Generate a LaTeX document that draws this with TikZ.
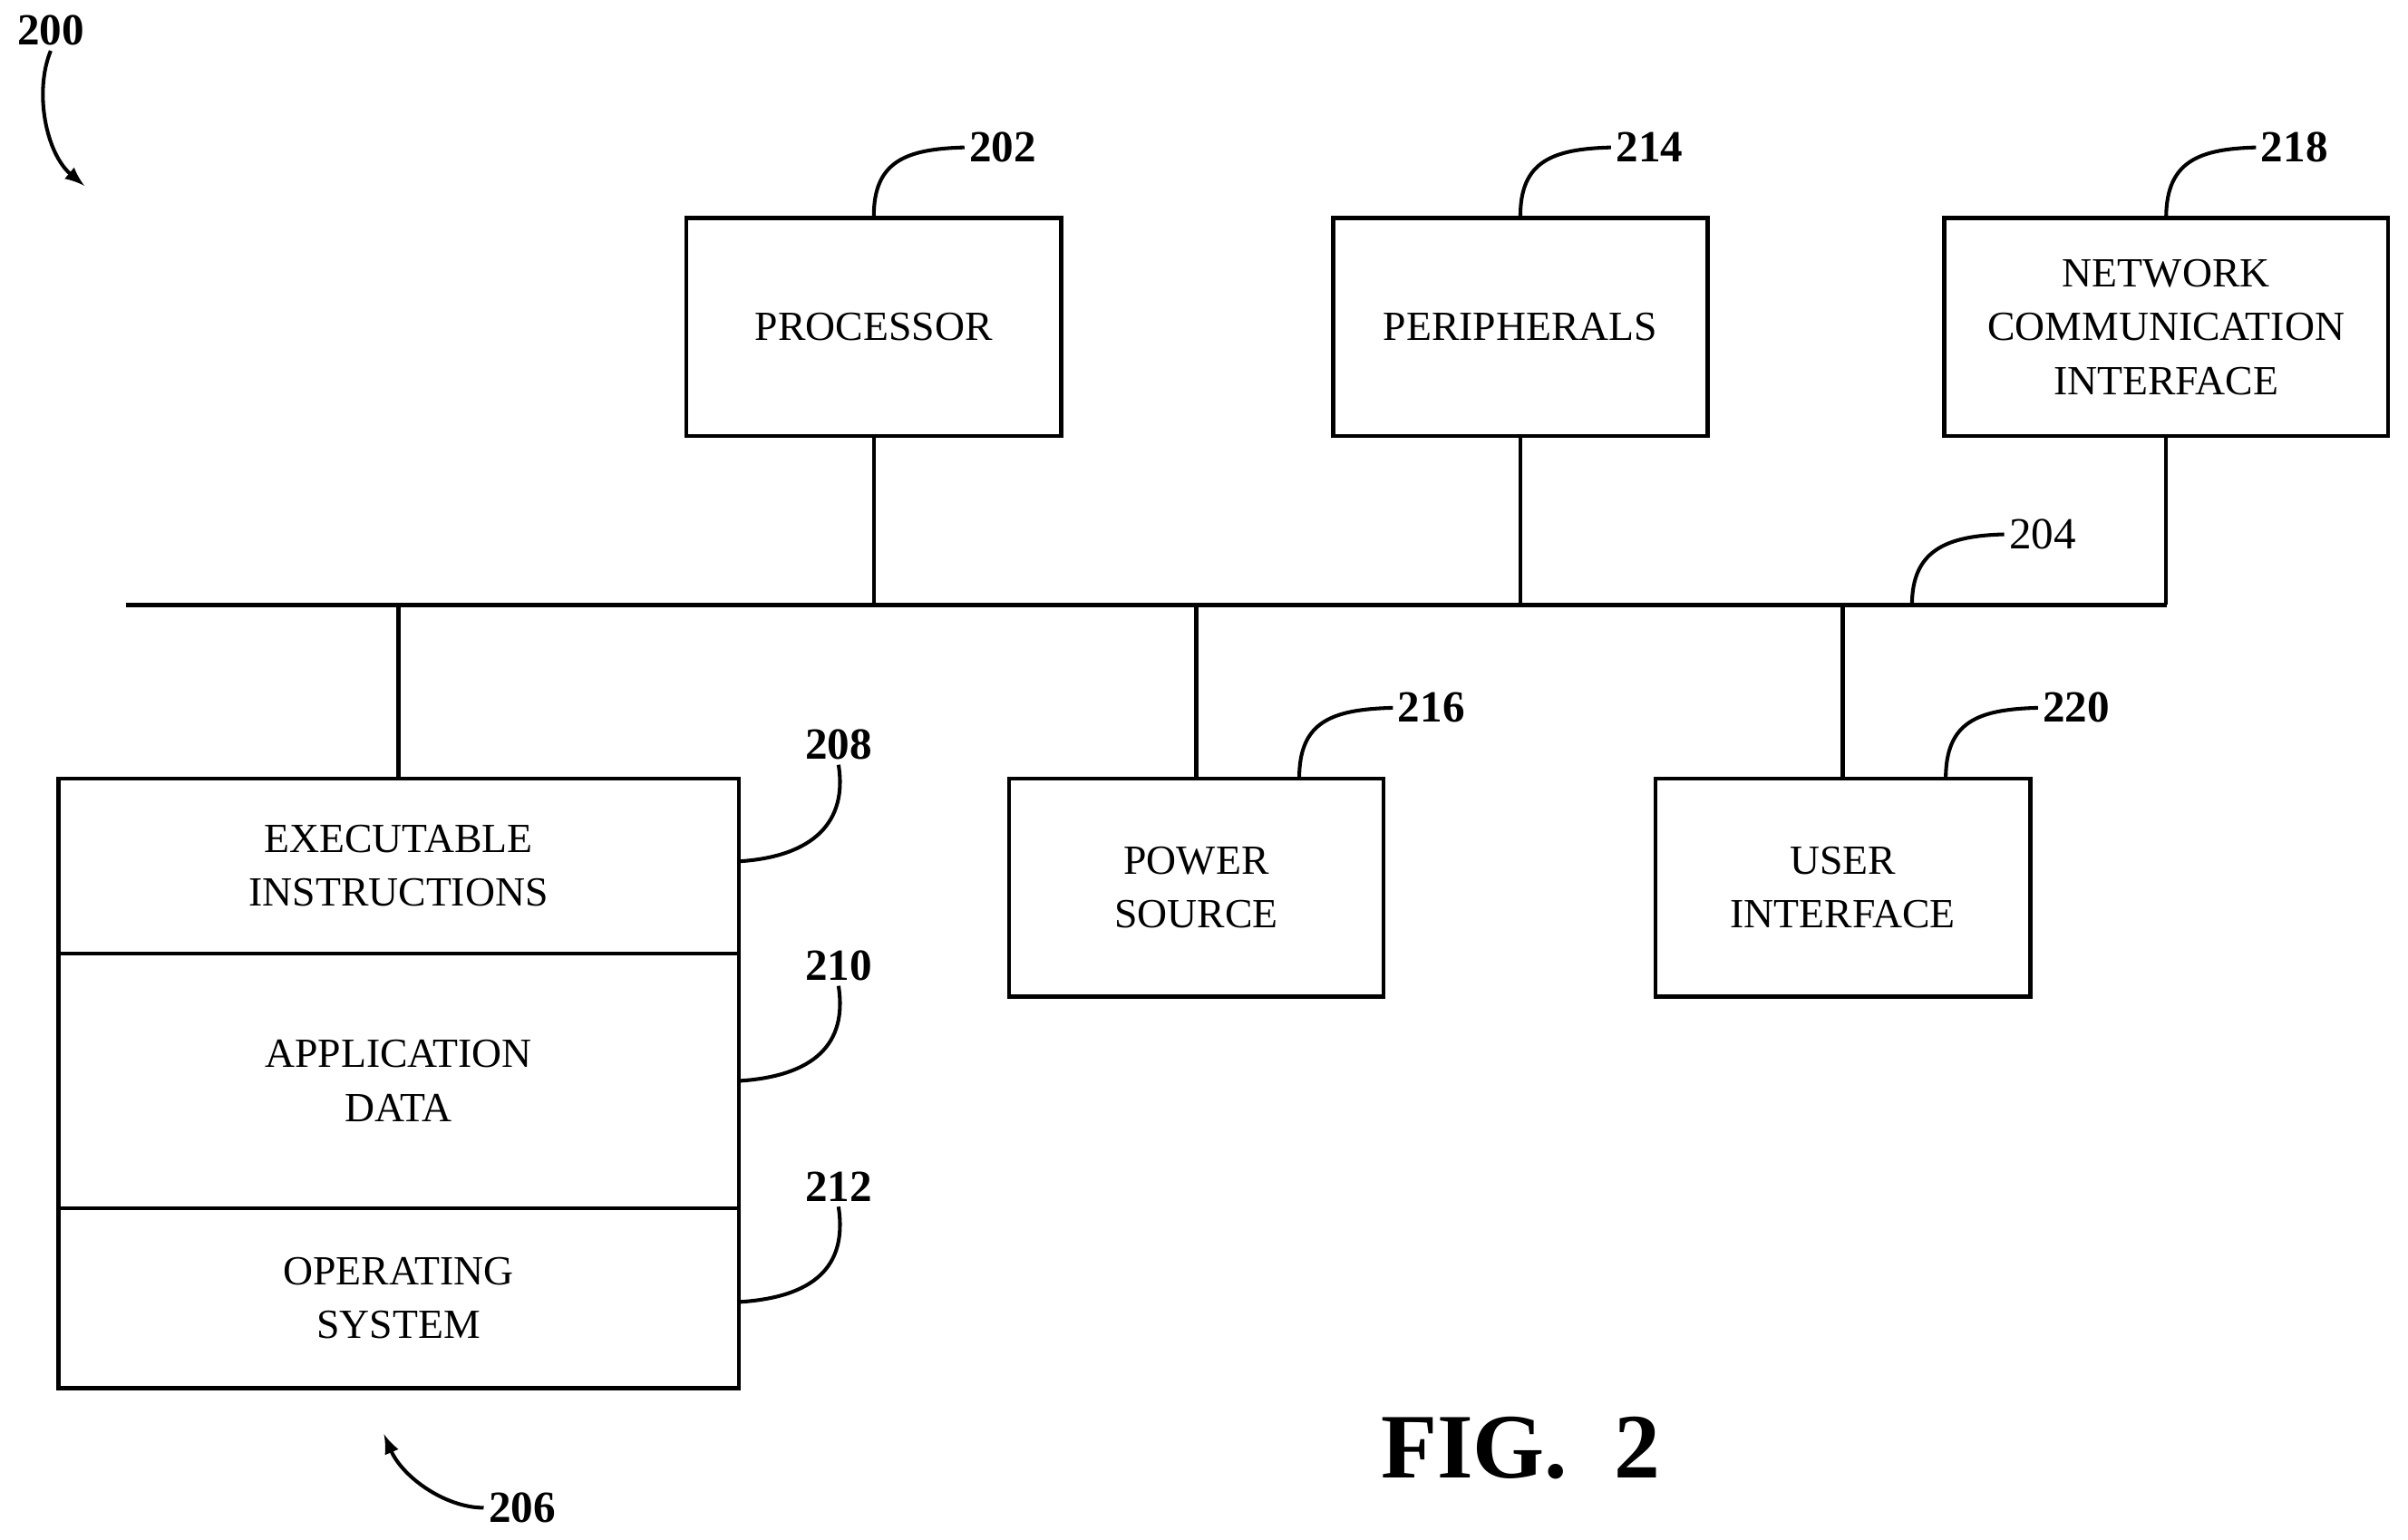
\documentclass[tikz,border=0pt]{standalone}
\usepackage{fontspec}
\setmainfont{Liberation Serif}
\begin{document}
\begin{tikzpicture}[x=0.5pt,y=-0.5pt,line width=1.3pt,
 box/.style={draw,line width=1.3pt,inner sep=0,align=center,font=\fontsize{13.5}{17.5}\selectfont},
 num/.style={font=\fontsize{14.5}{16}\selectfont\bfseries,inner sep=1pt},
 lead/.style={line width=1.2pt}]
\useasboundingbox (0,0) rectangle (1568,1003);
\node[box,minimum width=122pt,minimum height=71pt] (proc) at (569,213) {PROCESSOR};
\node[box,minimum width=122pt,minimum height=71pt] (peri) at (990,213) {PERIPHERALS};
\node[box,minimum width=144.5pt,minimum height=71pt] (net) at (1410.5,213) {NETWORK\\COMMUNICATION\\INTERFACE};
\node[box,minimum width=122pt,minimum height=71pt] (pow) at (779,578) {POWER\\SOURCE};
\node[box,minimum width=122pt,minimum height=71pt] (ui) at (1200,578) {USER\\INTERFACE};
\node[box,minimum width=221.5pt,minimum height=57pt] (exe) at (259.5,564) {EXECUTABLE\\INSTRUCTIONS};
\node[box,minimum width=221.5pt,minimum height=83pt] (app) at (259.5,704) {APPLICATION\\DATA};
\node[box,minimum width=221.5pt,minimum height=58.5pt] (os) at (259.5,845.5) {OPERATING\\SYSTEM};
\coordinate (bl) at (82,394); \coordinate (br) at (1411,394);
\draw (bl) -- (br);
\draw (proc.south) -- (proc.south |- bl);
\draw (peri.south) -- (peri.south |- bl);
\draw (net.south) -- (net.south |- bl);
\draw (exe.north) -- (exe.north |- bl);
\draw (pow.north) -- (pow.north |- bl);
\draw (ui.north) -- (ui.north |- bl);
% labels
\node[num,anchor=west] (l202) at (628,96) {202};
\draw[lead] (proc.north) .. controls (569,105) and (590,97) .. (l202.west);
\node[num,anchor=west] (l214) at (1049,96) {214};
\draw[lead] (peri.north) .. controls (990,105) and (1011,97) .. (l214.west);
\node[num,anchor=west] (l218) at (1469,96) {218};
\draw[lead] (net.north) .. controls (1411,105) and (1432,97) .. (l218.west);
\node[num,anchor=west] (l216) at (907,461) {216};
\coordinate (p216) at (846,507);
\draw[lead] (p216) .. controls (846,470) and (867,462) .. (l216.west);
\node[num,anchor=west] (l220) at (1327,461) {220};
\coordinate (p220) at (1267,507);
\draw[lead] (p220) .. controls (1267,470) and (1288,462) .. (l220.west);
\node[anchor=west,inner sep=1pt,font=\fontsize{14.5}{16}\selectfont] (l204) at (1305,348) {204};
\coordinate (p204) at (1245,394);
\draw[lead] (p204) .. controls (1245,358) and (1268,349) .. (l204.west);
\node[num] (l208) at (546,485) {208};
\coordinate (p208) at (481,561);
\draw[lead] (p208) .. controls (530,558) and (552,535) .. (l208.south);
\node[num] (l210) at (546,629) {210};
\coordinate (p210) at (481,704);
\draw[lead] (p210) .. controls (530,701) and (552,680) .. (l210.south);
\node[num] (l212) at (546,773) {212};
\coordinate (p212) at (481,848);
\draw[lead] (p212) .. controls (530,845) and (552,825) .. (l212.south);
\node[num] (l206) at (340,982) {206};
\coordinate (a206) at (250,934);
\draw[lead,-latex] (l206.west) .. controls (290,982) and (262,962) .. (a206);
\node[num] (l200) at (33,20) {200};
\coordinate (a200) at (55,121);
\draw[lead,-latex] (l200.south) .. controls (22,60) and (30,100) .. (a200);
\node[font=\fontsize{30}{32}\selectfont\bfseries] (fig) at (990,943) {FIG.\ \ 2};
\end{tikzpicture}
\end{document}
